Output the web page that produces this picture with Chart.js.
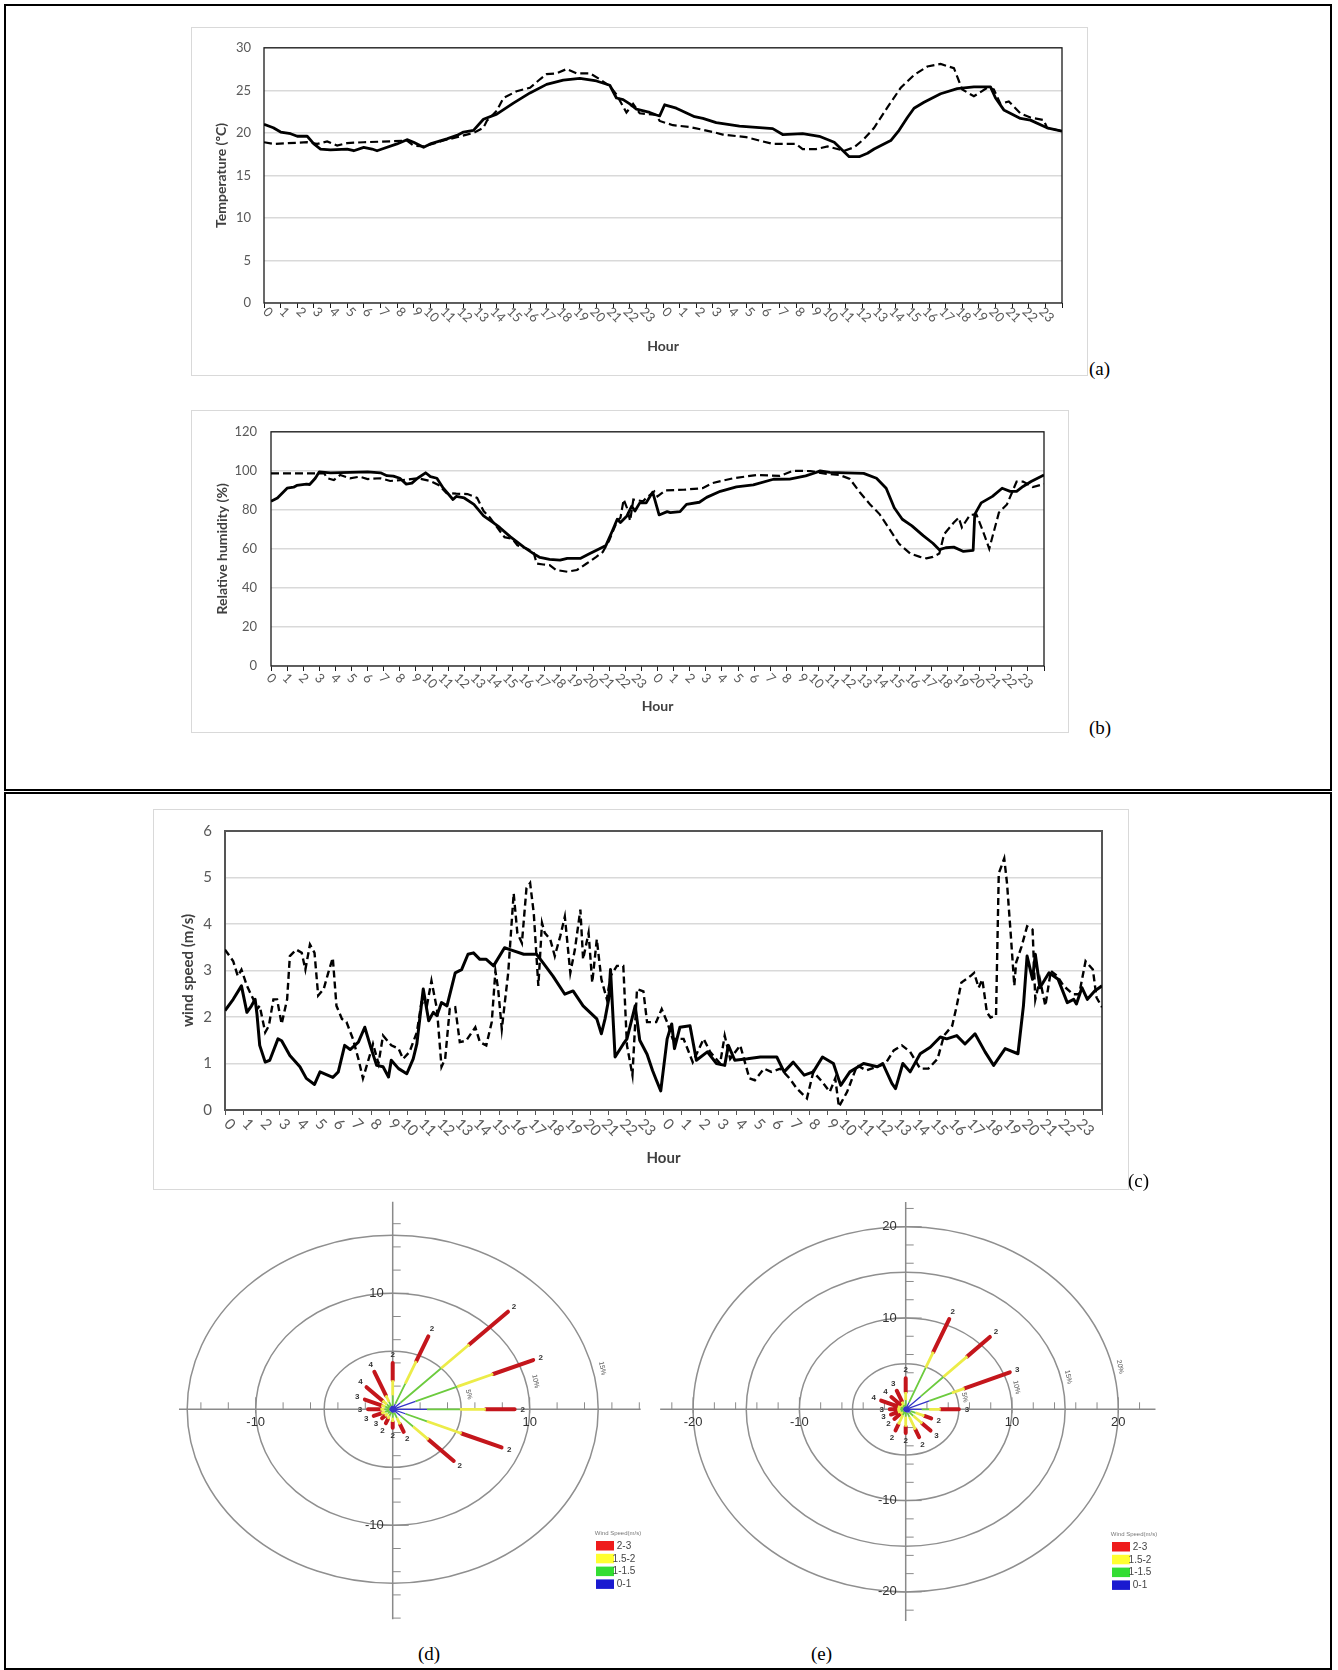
<!DOCTYPE html>
<html>
<head>
<meta charset="utf-8">
<title>Temperature, humidity and wind</title>
<script src="https://cdn.jsdelivr.net/npm/chart.js@4.4.1/dist/chart.umd.min.js"></script>
<style>
  html, body { margin: 0; padding: 0; background: #fff; }
  body { position: relative; width: 1338px; height: 1670px; overflow: hidden; }
  .box { position: absolute; border: 2px solid #000; box-sizing: border-box; }
  .frame { position: absolute; border: 1px solid #d9d9d9; box-sizing: border-box; }
  canvas { position: absolute; }
  .tag { position: absolute; font-family: 'Liberation Serif', serif; font-size: 19px; line-height: 20px; color: #000; }
</style>
</head>
<body>
<div class="box" style="left:4px;top:4px;width:1328px;height:787px"></div>
<div class="box" style="left:4px;top:792px;width:1328px;height:878px"></div>

<div class="frame" style="left:191px;top:27px;width:897px;height:349px"></div>
<canvas id="tempChart" width="897" height="349" style="left:191px;top:27px"></canvas>
<div class="tag" style="left:1089px;top:359px">(a)</div>

<div class="frame" style="left:191px;top:410px;width:878px;height:323px"></div>
<canvas id="rhChart" width="878" height="323" style="left:191px;top:410px"></canvas>
<div class="tag" style="left:1089px;top:718px">(b)</div>

<div class="frame" style="left:153px;top:809px;width:976px;height:381px"></div>
<canvas id="windChart" width="976" height="381" style="left:153px;top:809px"></canvas>
<div class="tag" style="left:1128px;top:1171px">(c)</div>

<canvas id="roseD" width="480" height="445" style="left:170px;top:1195px"></canvas>
<canvas id="roseE" width="530" height="445" style="left:655px;top:1195px"></canvas>
<div class="tag" style="left:418px;top:1644px">(d)</div>
<div class="tag" style="left:811px;top:1644px">(e)</div>

<script>
Chart.defaults.font.family = "Lato, 'Liberation Sans', sans-serif";

// hour tick labels, two days
const dayHours = ['0','1','2','3','4','5','6','7','8','9','10','11','12','13','14','15','16','17','18','19','20','21','22','23'];
const hourLabels = dayHours.concat(dayHours);

// (a) temperature, solid and dashed series
const tempSolidH = [0, 0.56, 1, 1.6, 2, 2.6, 3, 3.4, 4, 5,
  5.4, 6, 6.5, 6.8, 7.1, 8, 8.6, 9, 9.6, 10,
  11, 11.6, 12, 12.6, 13.2, 14, 15, 16, 17, 18,
  19, 20, 20.8, 21.2, 21.6, 22, 22.4, 23.2, 23.6, 23.8,
  24.1, 24.8, 25.9, 26.4, 27.2, 28.6, 30.6, 31.2, 32.4, 33.4,
  34.3, 35.2, 35.8, 36.3, 36.7, 37.7, 38.2, 38.7, 39.1, 39.7,
  40.7, 41.7, 42.7, 43.7, 44, 44.5, 45.5, 46.1, 47.1, 48];
const tempSolidV = [21.0, 20.6, 20.1, 19.9, 19.6, 19.6, 18.7, 18.1, 18.0, 18.1,
  17.9, 18.3, 18.1, 17.9, 18.1, 18.7, 19.2, 18.9, 18.3, 18.7,
  19.3, 19.7, 20.1, 20.3, 21.6, 22.2, 23.5, 24.7, 25.7, 26.2,
  26.4, 26.1, 25.6, 24.1, 23.9, 23.4, 22.8, 22.4, 22.1, 22.0,
  23.3, 22.9, 21.9, 21.7, 21.2, 20.8, 20.5, 19.8, 19.9, 19.6,
  18.9, 17.2, 17.2, 17.6, 18.1, 19.1, 20.3, 21.8, 22.9, 23.6,
  24.6, 25.2, 25.4, 25.4, 24.1, 22.7, 21.7, 21.5, 20.6, 20.2];
const tempDashH = [0, 0.6, 2.6, 3.2, 3.8, 4.4, 5, 6, 7.6, 8.6,
  9, 9.6, 10.8, 11.6, 12.6, 13.2, 13.4, 14, 14.4, 15.2,
  16, 16.6, 17, 17.6, 18.2, 18.8, 19.6, 20.2, 20.8, 21.2,
  21.8, 22.2, 22.6, 23.6, 23.8, 24.6, 25.6, 27, 27.6, 29,
  30.6, 32, 32.4, 33.2, 33.9, 34.9, 35.5, 36.1, 36.7, 37.5,
  38.3, 39.1, 39.9, 40.7, 41.5, 41.8, 42, 42.7, 43.5, 43.9,
  44.3, 44.8, 45.5, 46.1, 46.9, 47.1, 48];
const tempDashV = [18.9, 18.7, 18.9, 18.7, 19.0, 18.5, 18.8, 18.9, 19.0, 19.1,
  18.5, 18.4, 19.1, 19.5, 20.0, 20.6, 21.4, 22.6, 24.1, 24.9,
  25.3, 26.3, 26.9, 27.0, 27.5, 27.0, 27.0, 26.3, 25.5, 24.5,
  22.4, 23.4, 22.3, 22.1, 21.4, 20.9, 20.7, 20.1, 19.8, 19.5,
  18.7, 18.7, 18.1, 18.1, 18.4, 17.9, 18.3, 19.3, 20.6, 23.0,
  25.3, 26.8, 27.8, 28.1, 27.6, 26.1, 25.1, 24.3, 25.3, 25.1,
  23.4, 23.7, 22.3, 21.8, 21.5, 20.6, 20.2];

// (b) relative humidity
const rhSolidH = [0, 0.4, 1, 1.4, 1.6, 2.2, 2.4, 2.75, 3, 3.7,
  4.9, 6, 6.8, 7.2, 7.6, 8, 8.4, 8.75, 9.1, 9.6,
  9.9, 10.3, 10.7, 11.3, 11.5, 12, 12.6, 13.2, 13.8, 14.2,
  14.85, 15.7, 16.3, 16.7, 17.3, 17.95, 18.4, 19.2, 19.8, 20.4,
  20.8, 21.2, 21.5, 21.7, 22.1, 22.4, 22.6, 22.9, 23.3, 23.7,
  24.1, 24.6, 24.8, 25.4, 25.8, 26.6, 27.05, 27.9, 28.9, 29.95,
  31.2, 32.2, 33.2, 33.8, 34.1, 34.7, 35.7, 36.8, 37.6, 38.2,
  38.7, 39.2, 39.8, 40.5, 41.1, 41.5, 41.9, 42.4, 43.0, 43.6,
  43.7, 44.1, 44.8, 45.4, 45.9, 46.3, 46.7, 47.2, 48];
const rhSolidV = [84.4, 86.1, 91.1, 91.6, 92.5, 93.2, 93.0, 96.2, 99.5, 99.0,
  99.2, 99.5, 99.0, 97.5, 97.3, 96.2, 93.2, 93.7, 96.2, 99.0,
  97.0, 96.2, 91.1, 85.3, 86.9, 86.1, 82.8, 76.9, 73.5, 71.0,
  66.3, 60.9, 57.6, 55.6, 54.6, 54.2, 55.1, 55.1, 57.6, 60.1,
  61.8, 69.3, 75.2, 73.5, 76.9, 81.9, 79.4, 83.6, 83.6, 89.1,
  77.4, 79.1, 78.6, 79.1, 82.8, 83.9, 86.4, 89.5, 91.8, 92.8,
  95.7, 95.8, 97.4, 99.0, 100.0, 99.2, 99.0, 98.7, 96.2, 91.1,
  81.1, 75.2, 71.8, 66.8, 62.9, 59.6, 60.6, 60.9, 58.7, 59.3,
  77.7, 83.6, 86.9, 91.1, 89.5, 89.5, 92.0, 94.5, 97.9];
const rhDashH = [0, 2.85, 3.3, 3.5, 3.9, 4.3, 4.9, 5.5, 6, 6.8,
  7.4, 8.2, 9.1, 9.9, 10.4, 10.9, 11.5, 12.2, 12.8, 13.2,
  13.6, 14.2, 14.5, 15.0, 15.3, 15.9, 16.3, 16.5, 16.9, 17.3,
  17.7, 18.4, 19.0, 19.6, 20.2, 20.6, 21.0, 21.5, 21.7, 21.9,
  22.1, 22.3, 22.5, 23.1, 23.3, 23.8, 24.0, 24.5, 25.6, 26.8,
  27.4, 28.7, 30.2, 31.6, 32.4, 33.5, 34.5, 35.3, 35.95, 36.6,
  37.2, 37.8, 38.4, 39.0, 39.7, 40.3, 40.7, 41.1, 41.5, 41.8,
  42.4, 42.7, 42.9, 43.4, 43.8, 44.2, 44.6, 45.2, 45.7, 46.3,
  46.7, 47.3, 48];
const rhDashV = [98.7, 98.7, 98.7, 96.2, 95.3, 97.9, 96.2, 97.0, 95.8, 96.2,
  94.8, 95.3, 96.2, 94.8, 92.8, 88.6, 88.3, 88.1, 86.1, 79.4,
  76.0, 69.3, 66.0, 65.1, 61.8, 60.1, 58.4, 52.5, 52.0, 51.7,
  49.2, 48.3, 49.2, 52.5, 55.9, 58.4, 64.3, 74.4, 76.0, 85.3,
  81.1, 74.4, 85.3, 84.4, 86.1, 89.5, 86.9, 90.0, 90.3, 91.1,
  93.7, 96.2, 97.9, 97.4, 100.0, 99.9, 98.4, 97.9, 95.8, 88.6,
  82.8, 77.7, 70.2, 62.6, 57.6, 55.9, 55.2, 55.9, 57.6, 67.6,
  73.5, 76.0, 71.0, 77.4, 77.7, 69.3, 60.1, 78.6, 82.8, 94.5,
  94.5, 91.7, 93.2];

// (c) wind speed
const windSolidH = [0, 0.45, 0.9, 1.2, 1.45, 1.65, 1.75, 1.9, 2.2, 2.45,
  2.9, 3.1, 3.55, 4.1, 4.45, 4.9, 5.2, 5.55, 5.9, 6.2,
  6.55, 6.85, 7.3, 7.65, 8.0, 8.3, 8.65, 8.95, 9.1, 9.5,
  9.95, 10.3, 10.5, 10.85, 11.15, 11.4, 11.6, 11.85, 12.15, 12.6,
  12.95, 13.3, 13.6, 13.95, 14.3, 14.7, 15.3, 15.6, 16.35, 17.05,
  17.4, 17.95, 18.6, 19.05, 19.6, 20.35, 20.6, 20.8, 21.0, 21.1,
  21.35, 21.8, 22.0, 22.45, 22.7, 23.1, 23.4, 23.6, 23.85, 24.2,
  24.45, 24.6, 24.9, 25.45, 25.8, 26.4, 26.9, 27.35, 27.55, 27.9,
  28.6, 29.3, 30.2, 30.6, 31.1, 31.7, 32.2, 32.7, 33.3, 33.7,
  34.2, 34.95, 35.7, 36.0, 36.5, 36.7, 37.1, 37.5, 38.05, 38.6,
  39.15, 39.5, 40.05, 40.5, 41.05, 41.6, 42.07, 42.7, 43.4, 43.7,
  43.9, 44.2, 44.35, 44.6, 45.1, 45.6, 46.1, 46.45, 46.6, 46.9,
  47.2, 47.6, 48];
const windSolidV = [2.14, 2.38, 2.67, 2.10, 2.24, 2.38, 2.06, 1.39, 1.03, 1.07,
  1.53, 1.49, 1.17, 0.93, 0.68, 0.55, 0.82, 0.76, 0.70, 0.82,
  1.39, 1.30, 1.46, 1.78, 1.32, 0.96, 0.93, 0.71, 1.07, 0.89,
  0.78, 1.10, 1.42, 2.60, 1.92, 2.10, 2.03, 2.31, 2.24, 2.95,
  3.02, 3.35, 3.38, 3.24, 3.24, 3.10, 3.49, 3.45, 3.35, 3.35,
  3.17, 2.88, 2.49, 2.56, 2.24, 1.96, 1.64, 1.96, 2.38, 3.02,
  1.14, 1.42, 1.53, 2.24, 1.50, 1.20, 0.85, 0.65, 0.41, 1.53,
  1.85, 1.32, 1.78, 1.81, 1.07, 1.25, 1.00, 0.96, 1.39, 1.07,
  1.10, 1.14, 1.14, 0.82, 1.03, 0.75, 0.82, 1.14, 1.00, 0.53,
  0.82, 1.00, 0.93, 1.00, 0.57, 0.46, 1.00, 0.82, 1.21, 1.35,
  1.57, 1.53, 1.60, 1.42, 1.64, 1.25, 0.96, 1.32, 1.21, 2.24,
  3.31, 2.81, 3.35, 2.63, 2.95, 2.81, 2.31, 2.38, 2.28, 2.63,
  2.38, 2.56, 2.67];
const windDashH = [0, 0.45, 0.7, 0.9, 1.2, 1.55, 1.75, 1.9, 2.2, 2.4,
  2.65, 2.85, 3.1, 3.4, 3.55, 3.9, 4.2, 4.4, 4.65, 4.9,
  5.1, 5.4, 5.65, 5.9, 6.1, 6.4, 6.65, 7.0, 7.3, 7.55,
  7.95, 8.1, 8.4, 8.65, 9.1, 9.5, 9.75, 10.1, 10.5, 10.75,
  11.05, 11.3, 11.6, 11.85, 12.05, 12.3, 12.6, 12.85, 13.2, 13.7,
  13.95, 14.3, 14.6, 14.8, 14.95, 15.15, 15.5, 15.8, 16.0, 16.25,
  16.5, 16.7, 16.9, 17.15, 17.35, 17.5, 17.8, 18.05, 18.35, 18.6,
  18.9, 19.15, 19.45, 19.6, 19.9, 20.1, 20.35, 20.6, 20.9, 21.1,
  21.45, 21.8, 22.0, 22.3, 22.55, 22.9, 23.1, 23.6, 23.9, 24.2,
  24.5, 25.1, 25.6, 26.2, 26.55, 27.1, 27.35, 27.65, 28.2, 28.7,
  29.0, 29.5, 29.9, 30.4, 30.9, 31.3, 31.85, 32.2, 32.7, 33.1,
  33.4, 33.6, 34.05, 34.6, 35.1, 35.9, 36.2, 36.6, 37.05, 37.5,
  38.05, 38.5, 39.0, 39.35, 39.8, 40.05, 40.3, 40.8, 41.0, 41.25,
  41.45, 41.7, 41.9, 42.2, 42.35, 42.65, 42.8, 43.0, 43.2, 43.3,
  43.6, 43.9, 44.2, 44.35, 44.6, 44.9, 45.2, 45.55, 45.9, 46.4,
  46.75, 47.1, 47.5, 47.7, 48];
const windDashV = [3.45, 3.20, 2.88, 3.02, 2.67, 2.38, 2.17, 2.24, 1.67, 1.81,
  2.38, 2.38, 1.85, 2.38, 3.31, 3.45, 3.38, 3.02, 3.56, 3.38,
  2.46, 2.60, 2.95, 3.27, 2.24, 1.96, 1.89, 1.53, 1.10, 0.68,
  1.21, 1.42, 1.00, 1.60, 1.39, 1.32, 1.10, 1.25, 1.67, 2.31,
  2.24, 2.78, 2.17, 0.93, 1.10, 2.17, 2.21, 1.46, 1.49, 1.78,
  1.46, 1.39, 1.89, 2.99, 2.60, 1.74, 2.95, 4.66, 3.81, 3.59,
  4.77, 4.88, 4.23, 2.67, 4.02, 3.81, 3.67, 3.31, 3.74, 4.16,
  2.95, 3.45, 4.31, 3.24, 3.81, 2.74, 3.67, 2.81, 2.38, 2.88,
  3.10, 3.10, 1.39, 0.75, 2.60, 2.55, 1.89, 1.89, 2.17, 1.89,
  1.53, 1.53, 1.03, 1.53, 1.25, 1.00, 1.60, 1.10, 1.39, 0.68,
  0.64, 0.89, 0.82, 0.89, 0.68, 0.46, 0.25, 0.82, 0.60, 0.39,
  0.68, 0.07, 0.39, 0.96, 0.85, 0.96, 1.03, 1.28, 1.39, 1.25,
  0.89, 0.89, 1.10, 1.60, 1.81, 2.24, 2.74, 2.88, 2.95, 2.63,
  2.81, 2.10, 1.99, 2.03, 5.09, 5.41, 4.88, 3.81, 2.67, 3.17,
  3.52, 3.95, 3.88, 2.38, 2.81, 2.24, 2.99, 2.88, 2.67, 2.49,
  2.49, 3.20, 3.02, 2.42, 2.21];

// (d), (e) wind roses: 16 compass directions, cumulative frequency (%) at end of each speed class
const roseDirs = [0, 22.5, 45, 67.5, 90, 112.5, 135, 157.5, 180, 202.5, 225, 247.5, 270, 292.5, 315, 337.5];
const speedClasses = ['2-3', '1.5-2', '1-1.5', '0-1'];
const dBlue   = [0.3, 0.5, 0.8, 1.8, 2.5, 1.0, 0.8, 0.3, 0.3, 0.25, 0.25, 0.25, 0.25, 0.25, 0.25, 0.3];
const dGreen  = [1.2, 2.4, 5.0, 5.1, 4.9, 2.7, 2.1, 0.8, 0.7, 0.6, 0.5, 0.6, 0.6, 0.6, 0.6, 0.7];
const dYellow = [2.5, 4.5, 7.9, 7.95, 6.8, 5.45, 3.7, 1.4, 1.1, 0.9, 0.8, 0.9, 0.9, 0.9, 1.05, 1.3];
const dRed    = [4.0, 6.8, 11.9, 11.1, 8.9, 8.6, 6.3, 2.1, 1.6, 1.3, 1.1, 1.5, 1.8, 2.2, 2.7, 3.5];
const dTips   = ['2','2','2','2','2','2','2','2','2','2','3','3','3','3','4','4'];
const dRings  = [5, 10, 15];
const eBlue   = [0.3, 0.8, 2.0, 2.4, 1.5, 0.5, 0.5, 0.4, 0.3, 0.3, 0.25, 0.25, 0.25, 0.25, 0.25, 0.3];
const eGreen  = [1.0, 4.9, 5.0, 4.7, 2.2, 1.0, 1.0, 0.9, 0.8, 0.7, 0.4, 0.5, 0.5, 0.5, 0.4, 0.5];
const eYellow = [1.9, 6.8, 8.2, 6.0, 3.3, 1.9, 2.2, 2.4, 1.9, 1.8, 0.7, 0.8, 0.8, 0.8, 0.6, 0.9];
const eRed    = [3.4, 10.7, 11.2, 10.6, 5.0, 2.6, 3.3, 3.3, 2.6, 2.5, 1.5, 1.5, 1.5, 2.5, 1.9, 2.2];
const eTips   = ['2','2','2','3','3','2','3','2','2','2','2','3','3','4','4','3'];
const eRings  = [5, 10, 15, 20];

function pts(hs, vs) { return hs.map((h, i) => ({ x: h, y: vs[i] })); }

function hourTicks(font, color, dx, dy) {
  return {
    id: 'hourTicks',
    afterDraw(chart) {
      const { ctx, chartArea } = chart;
      const x = chart.scales.x;
      ctx.save();
      ctx.font = font;
      ctx.fillStyle = color;
      ctx.textAlign = 'center';
      ctx.textBaseline = 'middle';
      hourLabels.forEach((lab, i) => {
        const w = ctx.measureText(lab).width * 0.354;
        ctx.save();
        ctx.translate(x.getPixelForValue(i) + dx - w, chartArea.bottom + dy + w);
        ctx.rotate(Math.PI / 4);
        ctx.fillText(lab, 0, 0);
        ctx.restore();
      });
      ctx.restore();
    }
  };
}

function plotFrame(color, width) {
  return {
    id: 'plotFrame',
    beforeDatasetsDraw(chart) {
      const { ctx, chartArea: a } = chart;
      ctx.save();
      ctx.strokeStyle = color;
      ctx.lineWidth = width;
      ctx.strokeRect(a.left, a.top, a.right - a.left, a.bottom - a.top);
      ctx.restore();
    }
  };
}

function lineChart(id, o) {
  return new Chart(document.getElementById(id), {
    type: 'line',
    data: {
      datasets: [
        { data: pts(o.solidH, o.solidV), borderColor: '#000', borderWidth: o.solidW, pointRadius: 0, tension: 0, borderJoinStyle: 'round' },
        { data: pts(o.dashH, o.dashV), borderColor: '#000', borderWidth: o.dashW, borderDash: o.dash, pointRadius: 0, tension: 0 }
      ]
    },
    options: {
      responsive: false, animation: false, devicePixelRatio: 1, events: [],
      layout: { padding: { top: o.padTop, right: o.padRight, left: 0, bottom: 0 } },
      plugins: { legend: { display: false }, tooltip: { enabled: false } },
      scales: {
        x: {
          type: 'linear', min: 0, max: 48,
          afterFit: s => { s.height = o.xH; },
          ticks: { display: false, stepSize: 1, maxTicksLimit: 100 },
          grid: { drawOnChartArea: false, drawTicks: true, tickLength: 5, color: o.frameColor, lineWidth: 1 },
          border: { display: false },
          title: { display: true, text: 'Hour', color: '#404040', font: { size: o.titleSize, weight: 'bold' }, padding: { top: 0, bottom: o.hourPad } }
        },
        y: {
          min: 0, max: o.yMax,
          afterFit: s => { s.width = o.yW; },
          ticks: { stepSize: o.yStep, padding: o.yPad, color: '#595959', font: { size: o.tickSize } },
          grid: { color: '#d9d9d9', lineWidth: 1.5, drawTicks: false },
          border: { display: false },
          title: { display: true, text: o.yTitle, color: '#404040', font: { size: o.titleSize, weight: 'bold' }, padding: { top: o.yTitlePad, bottom: 0 } }
        }
      }
    },
    plugins: [plotFrame(o.frameColor, o.frameW), hourTicks(o.tickSize + "px Lato, 'Liberation Sans', sans-serif", '#595959', o.lblDx, o.lblDy)]
  });
}

lineChart('tempChart', {
  solidH: tempSolidH, solidV: tempSolidV, dashH: tempDashH, dashV: tempDashV,
  solidW: 2.8, dashW: 2.2, dash: [8, 4],
  padTop: 17, padRight: 26, xH: 73, yW: 73, yPad: 13, yMax: 30, yStep: 5,
  yTitle: 'Temperature (ºC)', yTitlePad: 22, hourPad: 21, titleSize: 14, tickSize: 13,
  frameColor: '#1a1a1a', frameW: 1.3, lblDx: 6.5, lblDy: 6.5
});

lineChart('rhChart', {
  solidH: rhSolidH, solidV: rhSolidV, dashH: rhDashH, dashV: rhDashV,
  solidW: 2.8, dashW: 2.2, dash: [8, 4],
  padTop: 18, padRight: 25, xH: 67, yW: 80, yPad: 14, yMax: 120, yStep: 20,
  yTitle: 'Relative humidity (%)', yTitlePad: 23, hourPad: 18.6, titleSize: 14, tickSize: 13,
  frameColor: '#1a1a1a', frameW: 1.3, lblDx: 3, lblDy: 9.8
});

lineChart('windChart', {
  solidH: windSolidH, solidV: windSolidV, dashH: windDashH, dashV: windDashV,
  solidW: 3, dashW: 2.4, dash: [7, 4],
  padTop: 20, padRight: 27, xH: 80, yW: 72, yPad: 13, yMax: 6, yStep: 1,
  yTitle: 'wind speed (m/s)', yTitlePad: 26, hourPad: 23, titleSize: 15, tickSize: 15,
  frameColor: '#555555', frameW: 2, lblDx: 7.8, lblDy: 11.2
});

// ---- wind roses ----
const spokeStyles = [
  { color: '#3535c8', width: 1.3 },
  { color: '#6ccb3e', width: 1.8 },
  { color: '#ecec48', width: 2.8 },
  { color: '#c4161c', width: 4 }
];
const legendColors = ['#ee1c1c', '#ffff30', '#33dd33', '#1a1ad0'];
const LBL = "'Liberation Sans', Arial, sans-serif";

function spokes(inner, outer) {
  const out = [];
  roseDirs.forEach((deg, i) => {
    const a = deg * Math.PI / 180;
    const r0 = inner ? inner[i] : 0, r1 = outer[i];
    out.push({ x: r0 * Math.sin(a), y: r0 * Math.cos(a) }, { x: r1 * Math.sin(a), y: r1 * Math.cos(a) }, { x: null, y: null });
  });
  return out;
}

function roseDeco(o) {
  return {
    id: 'roseDeco',
    beforeDatasetsDraw(chart) {
      const { ctx } = chart;
      const x = chart.scales.x, y = chart.scales.y;
      const cx = x.getPixelForValue(0), cy = y.getPixelForValue(0);
      ctx.save();
      ctx.strokeStyle = '#8f8f8f';
      ctx.lineWidth = 1.5;
      o.rings.forEach(r => {
        ctx.beginPath();
        ctx.ellipse(cx, cy, x.getPixelForValue(r) - cx, cy - y.getPixelForValue(r), 0, 0, Math.PI * 2);
        ctx.stroke();
      });
      ctx.strokeStyle = '#8a8a8a';
      ctx.beginPath();
      ctx.moveTo(x.getPixelForValue(o.xSpan[0]), cy); ctx.lineTo(x.getPixelForValue(o.xSpan[1]), cy);
      ctx.moveTo(cx, y.getPixelForValue(o.ySpan[0])); ctx.lineTo(cx, y.getPixelForValue(o.ySpan[1]));
      ctx.stroke();
      ctx.lineWidth = 1;
      ctx.beginPath();
      for (let v = Math.ceil(o.xSpan[0] / 2) * 2; v <= o.xSpan[1]; v += 2) {
        if (v === 0) continue;
        const px = x.getPixelForValue(v);
        if (v % 10 === 0) { ctx.moveTo(px, cy - 12); ctx.lineTo(px, cy + 4); }
        else { ctx.moveTo(px, cy - 7); ctx.lineTo(px, cy); }
      }
      for (let v = Math.ceil(o.ySpan[0] / 2) * 2; v <= o.ySpan[1]; v += 2) {
        if (v === 0) continue;
        const py = y.getPixelForValue(v);
        if (v % 10 === 0) { ctx.moveTo(cx - 12, py); ctx.lineTo(cx + 16, py); }
        else { ctx.moveTo(cx, py); ctx.lineTo(cx + 8, py); }
      }
      ctx.stroke();
      ctx.fillStyle = '#333';
      ctx.font = '13px ' + LBL;
      ctx.textBaseline = 'middle';
      ctx.textAlign = 'center';
      for (let v = Math.ceil(o.xSpan[0] / 10) * 10; v <= o.xSpan[1]; v += 10) {
        if (v !== 0) ctx.fillText(String(v), x.getPixelForValue(v), cy + 13);
      }
      ctx.textAlign = 'right';
      for (let v = Math.ceil(o.ySpan[0] / 10) * 10; v <= o.ySpan[1]; v += 10) {
        if (v !== 0) ctx.fillText(String(v), cx - 9, y.getPixelForValue(v));
      }
      // ring percentage labels
      ctx.fillStyle = '#555';
      ctx.font = '7px ' + LBL;
      ctx.textAlign = 'center';
      const a = 13 * Math.PI / 180;
      o.rings.forEach(r => {
        const rr = r + 0.7;
        ctx.save();
        ctx.translate(x.getPixelForValue(rr * Math.cos(a)), y.getPixelForValue(rr * Math.sin(a)));
        ctx.rotate(78 * Math.PI / 180);
        ctx.fillText(r + '%', 0, 0);
        ctx.restore();
      });
      ctx.restore();
    },
    afterDatasetsDraw(chart) {
      const { ctx } = chart;
      const x = chart.scales.x, y = chart.scales.y;
      const cx = x.getPixelForValue(0), cy = y.getPixelForValue(0);
      ctx.save();
      ctx.fillStyle = '#333';
      ctx.font = 'bold 8px ' + LBL;
      ctx.textAlign = 'center';
      ctx.textBaseline = 'middle';
      roseDirs.forEach((deg, i) => {
        const ang = deg * Math.PI / 180, r = o.tipR[i];
        const tx = x.getPixelForValue(r * Math.sin(ang)), ty = y.getPixelForValue(r * Math.cos(ang));
        const len = Math.hypot(tx - cx, ty - cy) || 1;
        ctx.fillText(o.tips[i], tx + (tx - cx) / len * 8, ty + (ty - cy) / len * 8);
      });
      // legend
      const lx = o.legend[0], ly = o.legend[1];
      ctx.fillStyle = '#777';
      ctx.font = '6px ' + LBL;
      ctx.fillText('Wind Speed(m/s)', lx + 22, ly - 8);
      ctx.font = '10px ' + LBL;
      speedClasses.forEach((lab, k) => {
        const ty = ly + k * 12.8;
        ctx.fillStyle = legendColors[k];
        ctx.fillRect(lx, ty, 18, 9.5);
        ctx.fillStyle = '#444';
        ctx.fillText(lab, lx + 28, ty + 5);
      });
      ctx.restore();
    }
  };
}

function roseChart(id, geo, layers, tips, rings, xSpan, ySpan, legend) {
  const cv = document.getElementById(id);
  const W = cv.width, H = cv.height;
  return new Chart(cv, {
    type: 'scatter',
    data: {
      datasets: spokeStyles.map((s, k) => ({
        data: spokes(k === 0 ? null : layers[k - 1], layers[k]),
        showLine: true, spanGaps: false, pointRadius: 0,
        borderColor: s.color, borderWidth: s.width, borderCapStyle: k === 3 ? 'round' : 'butt'
      }))
    },
    options: {
      responsive: false, animation: false, devicePixelRatio: 1, events: [],
      layout: { padding: 0 },
      plugins: { legend: { display: false }, tooltip: { enabled: false } },
      scales: {
        x: { type: 'linear', display: false, min: -geo.cx / geo.kx, max: (W - geo.cx) / geo.kx },
        y: { type: 'linear', display: false, min: -(H - geo.cy) / geo.ky, max: geo.cy / geo.ky }
      }
    },
    plugins: [roseDeco({ rings, xSpan, ySpan, tips, tipR: layers[3], legend })]
  });
}

roseChart('roseD', { cx: 222.7, cy: 214.3, kx: 13.7, ky: 11.6 },
  [dBlue, dGreen, dYellow, dRed], dTips, dRings, [-15.6, 18.1], [-18.1, 17.9], [426, 346]);
roseChart('roseE', { cx: 250.7, cy: 214.3, kx: 10.63, ky: 9.13 },
  [eBlue, eGreen, eYellow, eRed], eTips, eRings, [-23.1, 23.5], [-23.2, 22.7], [457, 347]);
</script>
</body>
</html>
